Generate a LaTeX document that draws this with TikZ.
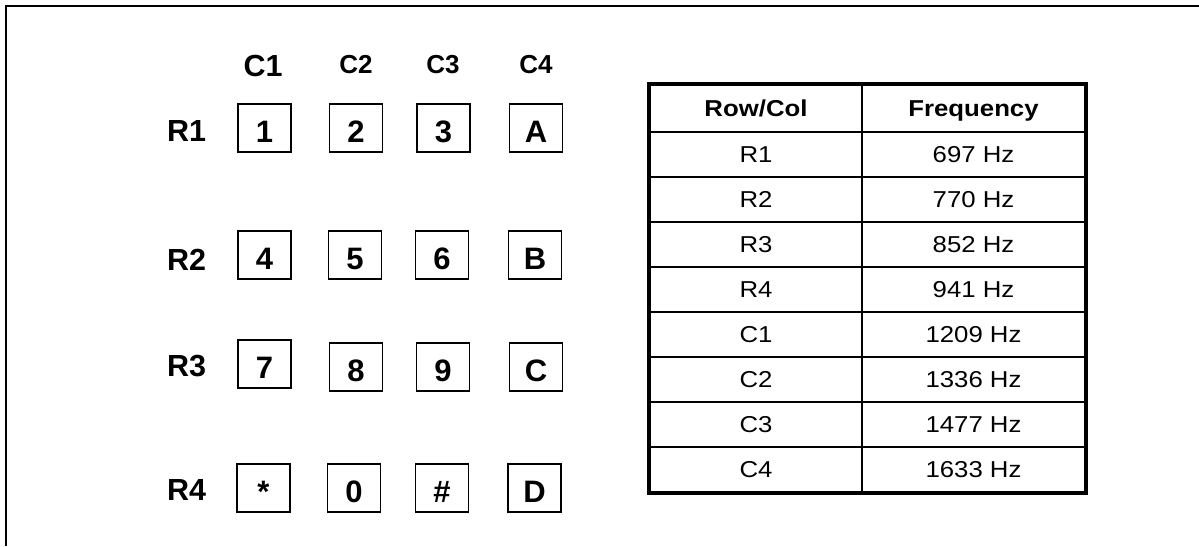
\documentclass[tikz,border=0pt]{standalone}
\usepackage{fontspec}
\setmainfont{Liberation Sans}[FakeStretch=1.12]
\newfontfamily\keyfont{Liberation Sans}
\begin{document}
\begin{tikzpicture}[x=1pt,y=-1pt,
  keybox/.style={draw, line width=1.6pt, minimum width=53pt, minimum height=48pt, inner sep=0pt,
    text height=28.5pt, text depth=0pt, font=\keyfont\fontsize{31}{31}\selectfont\bfseries},
  rlab/.style={inner sep=0pt, text height=21.8pt, text depth=0pt, font=\keyfont\fontsize{30.5}{30}\selectfont\bfseries},
  clab/.style={inner sep=0pt, text height=18.6pt, text depth=0pt, font=\keyfont\fontsize{26}{26}\selectfont\bfseries},
  cell/.style={draw, line width=2pt, inner sep=0pt, minimum height=45pt,
    text height=16.5pt, text depth=0pt, font=\fontsize{23}{23}\selectfont},
  cola/.style={cell, minimum width=212pt},
  colb/.style={cell, minimum width=223pt},
  hcell/.style={minimum height=47pt, font=\fontsize{23}{23}\selectfont\bfseries}]
\useasboundingbox (0,0) rectangle (1199,546);
% frame
\coordinate (ftr) at (1199,6);
\coordinate (ftl) at (6,6);
\coordinate (fbl) at (6,546);
\draw[line width=2pt] (ftr) -- (ftl) -- (fbl);
% column labels
\node[rlab] (c1) at (263,66) {C1};
\node[clab] (c2) at (356,64) {C2};
\node[clab] (c3) at (443,64) {C3};
\node[clab] (c4) at (536,64) {C4};
% row labels
\node[rlab] (r1) at (186.5,131) {R1};
\node[rlab] (r2) at (186.5,260) {R2};
\node[rlab] (r3) at (186.5,366) {R3};
\node[rlab] (r4) at (186.5,490) {R4};
% keys
\node[keybox] (k1) at (264.5,128) {1};
\node[keybox] (k2) at (356,128) {2};
\node[keybox] (k3) at (443.5,128) {3};
\node[keybox] (kA) at (536,128) {A};
\node[keybox] (k4) at (264.5,255) {4};
\node[keybox] (k5) at (355,255) {5};
\node[keybox] (k6) at (442,255) {6};
\node[keybox] (kB) at (535,255) {B};
\node[keybox] (k7) at (264.5,364) {7};
\node[keybox] (k8) at (356,367) {8};
\node[keybox] (k9) at (443,367) {9};
\node[keybox] (kC) at (536,367) {C};
\node[keybox] (ks) at (263.5,488) {*};
\node[keybox] (k0) at (354,488) {0};
\node[keybox] (kh) at (442,488) {\#};
\node[keybox] (kD) at (534.5,488) {D};
% table
\node[cola, hcell] (h1) at (756,108.5) {Row/Col};
\node[colb, hcell] (h2) at (973.5,108.5) {Frequency};
\node[cola] (a1) at (756,154.5) {R1};   \node[colb] (b1) at (973.5,154.5) {697 Hz};
\node[cola] (a2) at (756,199.5) {R2};   \node[colb] (b2) at (973.5,199.5) {770 Hz};
\node[cola] (a3) at (756,244.5) {R3};   \node[colb] (b3) at (973.5,244.5) {852 Hz};
\node[cola] (a4) at (756,289.5) {R4};   \node[colb] (b4) at (973.5,289.5) {941 Hz};
\node[cola] (a5) at (756,334.5) {C1};   \node[colb] (b5) at (973.5,334.5) {1209 Hz};
\node[cola] (a6) at (756,379.5) {C2};   \node[colb] (b6) at (973.5,379.5) {1336 Hz};
\node[cola] (a7) at (756,424.5) {C3};   \node[colb] (b7) at (973.5,424.5) {1477 Hz};
\node[cola] (a8) at (756,469.5) {C4};   \node[colb] (b8) at (973.5,469.5) {1633 Hz};
\draw[line width=3.5pt] (h1.north west) rectangle (b8.south east);
\end{tikzpicture}
\end{document}
